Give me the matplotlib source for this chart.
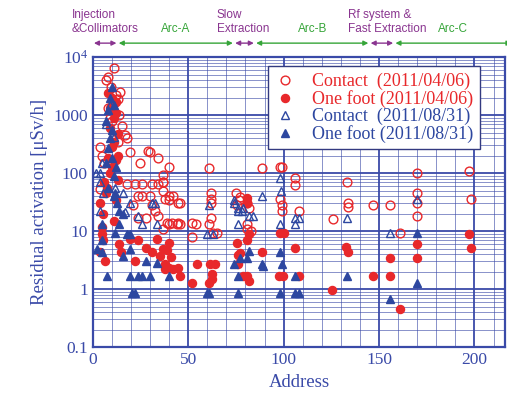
import matplotlib
matplotlib.use('Agg')
import matplotlib.pyplot as plt
import matplotlib.ticker as mticker

plt.rcParams['font.family'] = ['Liberation Serif', 'DejaVu Serif']
plt.rcParams['mathtext.fontset'] = 'custom'
plt.rcParams['mathtext.rm'] = 'Liberation Serif'

# Contact (2011/04/06) - red open circles
contact_0406_x = [11, 8, 7, 9.5, 14.5, 12, 11.5, 14, 15.5, 17, 4, 6, 13, 10, 8, 5, 9, 13,
                  30, 34, 19.5, 24.5, 29, 40, 18, 61, 88.5, 98, 99, 106, 106, 133,
                  170, 197, 170, 198, 98, 99, 99, 108, 134, 134, 147, 156, 170, 170,
                  126, 161, 18, 22, 26, 31, 34, 36.6, 3.7, 23.6, 26, 30, 40, 42, 44.5,
                  62, 62, 75, 76.5, 80.6, 32.5, 34, 40, 44, 45.5, 52, 54, 52, 65, 62,
                  28, 23.5, 21, 31, 37, 37, 37, 37.8, 40, 45.5, 62, 77, 82, 75.5,
                  38.7, 41.4, 44.5, 61, 36.6, 63, 81, 83, 81]
contact_0406_y = [6500, 4500, 4000, 3000, 2500, 2200, 1650, 1000, 660, 450, 280, 150, 350, 800, 1300, 200, 900, 1900,
                  230, 180, 230, 150, 245, 125, 400, 120, 120, 125, 125, 83, 63, 69,
                  100, 107, 45, 36, 36, 28, 22, 22, 30, 26, 28, 28, 30, 18,
                  16, 9.2, 66, 66, 66, 66, 66, 70, 54, 41, 41, 41, 41, 41, 30,
                  45, 30, 45, 35, 30, 22, 18.5, 13.5, 13.5, 13.5, 14, 13, 7.8, 9.2, 17,
                  17, 17, 28, 28, 91, 69, 50, 36, 35, 31, 36, 38, 25, 28,
                  14, 14, 14, 13, 11, 9.3, 11, 10, 13.5]

# One foot (2011/04/06) - red filled circles
onefoot_0406_x = [8, 10, 12, 9, 11, 13, 10, 12, 10, 6, 13, 7, 7.5, 3.7, 5.2, 4.7, 5.2,
                  3.7, 6.3, 14, 15, 19.4, 23.6, 22, 28, 31, 33.5, 35, 36.6, 40, 37.7,
                  37.7, 42, 45.5, 54.5, 61.3, 64, 52, 62.3, 62.3, 75.4, 81, 81, 88.5,
                  77, 78.5, 81, 82, 82, 81, 76, 61, 39, 41, 40, 44.5, 76, 5, 11, 12,
                  9, 13, 9, 11, 8, 12, 10,
                  98, 100, 105.8, 132.5, 133.5, 97.5, 99.5, 108, 125.6, 146.6,
                  155.5, 155.5, 161, 170, 170, 197, 198.4]
onefoot_0406_y = [2400, 2000, 1700, 1350, 900, 480, 280, 165, 125, 69, 75, 45, 56, 30, 20, 9, 7,
                  4.3, 3.1, 6, 4.3, 7.4, 7, 3.1, 5.1, 4.3, 7.4, 3.7, 5, 6.3, 2.7,
                  2.2, 2.2, 1.7, 2.7, 2.7, 2.7, 1.3, 1.5, 1.8, 6.3, 37, 30, 4.3,
                  4.2, 1.7, 1.7, 1.4, 9, 7, 2.7, 1.3, 4.7, 3.6, 2.3, 2.3, 3.9, 12, 15, 35,
                  100, 200, 600, 350, 180, 1100, 1500,
                  9.1, 9.1, 5.2, 5.3, 4.3, 1.7, 1.7, 1.7, 0.95, 1.7,
                  1.7, 3.5, 0.45, 6, 3.5, 9, 5.2]

# Contact (2011/08/31) - blue open triangles
contact_0831_x = [9, 7, 11, 5, 3.7, 3.7, 15.7, 5.2, 11.5, 19.4, 31, 32.5, 3.7, 16.8,
                  23.6, 26, 33.5, 60, 63, 74, 76, 78.5, 82, 84, 76, 88.5, 74, 76, 78,
                  61, 98.4, 98, 106, 108, 106, 133, 155.5, 170, 98, 1.5]
contact_0831_y = [1500, 700, 420, 150, 100, 70, 46, 45, 56, 31, 31, 31, 22, 21,
                  18.5, 13.5, 13.5, 9, 9, 35, 25, 25, 18.5, 18.5, 13.5, 41, 30, 22, 22,
                  28, 50, 13.5, 17, 17, 13, 17, 9.2, 36, 83, 100]

# One foot (2011/08/31) - blue filled triangles
onefoot_0831_x = [10, 9, 8, 7, 10, 8, 10, 12, 8, 11, 11.5, 12.6, 14, 15.7, 4.7, 11.5,
                  11, 9, 11, 7,
                  4.7, 7.3, 15.7, 19.4, 19.4, 20.4, 22, 23.6, 26, 30, 17.8, 19.4, 28,
                  33.5, 40, 74, 76, 77, 80.6, 82, 60, 61, 76, 88.5, 14, 89, 98, 99,
                  106, 98, 106, 108, 133, 155.5, 170, 170, 2, 5]
onefoot_0831_y = [3000, 2000, 1200, 800, 550, 270, 180, 125, 56, 41, 45, 30, 22, 20, 13.5, 9.1,
                  1500, 400, 90, 150,
                  4.3, 1.7, 3.7, 5, 1.7, 0.86, 0.86, 1.7, 1.7, 1.7, 9, 9, 3.1,
                  2.8, 1.7, 2.7, 1.7, 3.5, 3.5, 4.6, 0.86, 0.86, 0.86, 2.7, 13.5, 2.5, 4.3, 2.7,
                  1.7, 0.86, 0.86, 0.86, 1.7, 0.68, 9.1, 1.3, 5, 7]

# machine sections shown above the plot
sections = [(0, 13, '', 'purple'), (13, 74, 'Arc-A', 'green'),
            (74, 85, '', 'purple'), (85, 145, 'Arc-B', 'green'),
            (145, 158, '', 'purple'), (158, 220, 'Arc-C', 'green')]
section_titles = [(-11, 'Injection\n&Collimators'), (65, 'Slow\nExtraction'),
                  (134, 'Rf system &\nFast Extraction')]

red = '#e8282b'
blue = '#2d47a0'
axcol = '#3a4aa8'
purple = '#8a3590'
green = '#36a539'

fig = plt.figure(figsize=(5.07, 3.99), dpi=100)
ax = fig.add_axes([0.183, 0.130, 0.813, 0.727])

ax.plot(contact_0406_x, contact_0406_y, 'o', mfc='none', mec=red, mew=1.0, ms=6.3,
        label='Contact  (2011/04/06)', zorder=3)
ax.plot(onefoot_0406_x, onefoot_0406_y, 'o', color=red, ms=5.8,
        label='One foot (2011/04/06)', zorder=3)
ax.plot(contact_0831_x, contact_0831_y, '^', mfc='none', mec=blue, mew=1.0, ms=6.3,
        label='Contact  (2011/08/31)', zorder=4)
ax.plot(onefoot_0831_x, onefoot_0831_y, '^', color=blue, ms=6.3,
        label='One foot (2011/08/31)', zorder=4)

ax.set_yscale('log')
ax.set_xlim(0, 216)
ax.set_ylim(0.1, 1e4)
ax.set_xticks([0, 50, 100, 150, 200])
ax.xaxis.set_minor_locator(mticker.MultipleLocator(10))
ax.set_yticks([0.1, 1, 10, 100, 1000, 1e4])
ax.set_yticklabels(['0.1', '1', '10', '100', '1000', r'$\mathregular{10^4}$'])
ax.yaxis.set_minor_locator(mticker.LogLocator(base=10, subs=range(2, 10)))
ax.yaxis.set_minor_formatter(mticker.NullFormatter())

ax.grid(True, which='major', color=axcol, lw=1.3)
ax.grid(True, which='minor', color=axcol, lw=0.6, alpha=0.7)
ax.set_axisbelow(True)
for s in ax.spines.values():
    s.set_color(axcol)
    s.set_linewidth(1.6)
ax.tick_params(which='both', direction='in', colors=axcol, labelsize=12.5, length=0)

ax.set_xlabel('Address', color=axcol, fontsize=13.5)
ax.set_ylabel('Residual activation [\u03bcSv/h]', color=axcol, fontsize=13.5)

leg = ax.legend(loc='upper left', bbox_to_anchor=(0.425, 0.968), fontsize=13,
                labelcolor=[red, red, blue, blue], frameon=True, fancybox=False,
                handlelength=1.2, handletextpad=0.9, labelspacing=0.0,
                borderpad=0.35, borderaxespad=0)
leg.get_frame().set_edgecolor('#333a80')
leg.get_frame().set_linewidth(1.0)
leg.get_frame().set_alpha(1)

trans = ax.get_xaxis_transform()
for x0, x1, name, c in sections:
    col = purple if c == 'purple' else green
    ax.annotate('', xy=(x0 + 0.6, 1.048), xytext=(x1 - 0.6, 1.048), xycoords=trans,
                textcoords=trans, annotation_clip=False,
                arrowprops=dict(arrowstyle='<|-|>', color=col, lw=1.0,
                                mutation_scale=7, shrinkA=0, shrinkB=0))
    if name:
        ax.text((x0 + x1) / 2, 1.075, name, transform=trans, ha='center', va='bottom',
                color=col, fontsize=8.5, family='Liberation Sans')
for x, t in section_titles:
    ax.text(x, 1.075, t, transform=trans, ha='left', va='bottom', color=purple,
            fontsize=8.5, family='Liberation Sans', linespacing=1.25)

fig.savefig('out.png', dpi=100)
